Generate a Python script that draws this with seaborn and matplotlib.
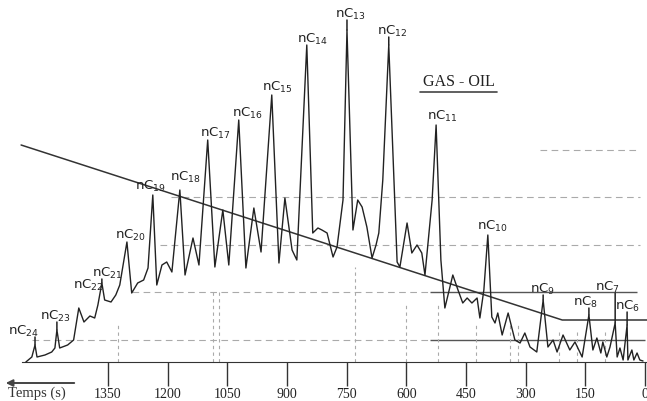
import numpy as np
import pandas as pd
import matplotlib.pyplot as plt
import seaborn as sns
from matplotlib.lines import Line2D

# chromatogram trace: retention time (s) and detector signal (arb.)
trace_time = [1556, 1541, 1533, 1528, 1508, 1491, 1483, 1478, 1471, 1451, 1436, 1423,
              1410, 1395, 1383, 1375, 1365, 1358, 1342, 1330, 1320, 1302, 1290, 1275,
              1260, 1249, 1237, 1227, 1214, 1202, 1189, 1169, 1156, 1136, 1121, 1099,
              1081, 1061, 1046, 1021, 1003, 983, 965, 938, 920, 905, 887, 875, 850,
              835, 822, 812, 799, 784, 774, 759, 749, 734, 722, 711, 699, 686, 676,
              669, 659, 644, 623, 616, 598, 586, 573, 561, 553, 535, 525, 513, 503,
              483, 470, 458, 447, 435, 422, 415, 405, 395, 385, 377, 370, 359, 344,
              327, 314, 302, 289, 272, 256, 244, 231, 221, 206, 189, 176, 158, 141,
              131, 121, 111, 106, 96, 88, 75, 70, 63, 55, 45, 43, 33, 28, 20, 13, 5]
trace_signal = [0, 5, 17, 5, 7, 10, 14, 32, 14, 17, 22, 54,
                40, 46, 44, 57, 79, 62, 60, 67, 77, 120, 69, 79,
                82, 94, 167, 77, 97, 100, 90, 172, 87, 124, 97, 222,
                95, 152, 97, 242, 94, 154, 110, 267, 99, 164, 112, 102, 317,
                129, 134, 132, 129, 105, 115, 162, 332, 132, 162, 155, 135, 104, 117,
                129, 182, 317, 100, 95, 139, 109, 117, 109, 87, 162, 237, 102, 54,
                87, 72, 59, 64, 59, 64, 44, 72, 127, 45, 39, 49, 27, 49,
                22, 19, 29, 15, 10, 62, 15, 22, 10, 27, 12, 20, 5, 47,
                12, 24, 9, 20, 5, 15, 39, 5, 14, 2, 37, 2, 12, 2, 9, 2, 1]

# n-alkane peaks
peak_names = ['nC$_{24}$', 'nC$_{23}$', 'nC$_{22}$', 'nC$_{21}$', 'nC$_{20}$', 'nC$_{19}$',
              'nC$_{18}$', 'nC$_{17}$', 'nC$_{16}$', 'nC$_{15}$', 'nC$_{14}$', 'nC$_{13}$',
              'nC$_{12}$', 'nC$_{11}$', 'nC$_{10}$', 'nC$_{9}$', 'nC$_{8}$', 'nC$_{7}$', 'nC$_{6}$']
peak_time = [1533, 1478, 1423, 1365, 1302, 1237, 1169, 1099, 1021, 938, 850, 749,
             644, 525, 395, 256, 141, 75, 45]
peak_signal = [17, 32, 54, 79, 120, 167, 172, 222, 242, 267, 317, 332,
               317, 237, 127, 62, 47, 39, 37]

# oven temperature programme line
temp_time = [1568, 208, -5]
temp_level = [217, 42, 42]

# chart paper guide lines
guide_levels = [212, 165, 117, 70, 70, 22, 22]
guide_start = [264, 1190, 1220, 1290, 540, 1540, 540]
guide_end = [13, 13, 13, 540, 20, 540, 0]
guide_solid = [False, False, False, False, True, False, True]
vline_times = [1325, 1085, 1070, 729, 600, 520, 425, 340, 320, 215, 170, 100]
vline_tops = [40, 70, 70, 95, 60, 60, 40, 40, 40, 30, 30, 30]

tick_values = [1350, 1200, 1050, 900, 750, 600, 450, 300, 150, 0]

df = pd.DataFrame({'time': trace_time, 'signal': trace_signal})

sns.set_style('white')
plt.rcParams['font.family'] = ['DejaVu Sans']

W, H = 647, 401
fig = plt.figure(figsize=(W / 100, H / 100), dpi=100)
ax = fig.add_axes([0, 0, 1, 1])

# guides first, faint
for lev, a, b, solid in zip(guide_levels, guide_start, guide_end, guide_solid):
    ax.hlines(lev, a, b, color='#555555' if solid else '#aaaaaa',
              lw=1.0 if solid else 0.8, ls='-' if solid else (0, (6, 4)), zorder=1)
for t, top in zip(vline_times, vline_tops):
    ax.vlines(t, 0, top, color='#aaaaaa', lw=0.8, ls=(0, (3, 3)), zorder=1)

ax.plot(temp_time, temp_level, color='#333333', lw=1.1, zorder=2)

sns.lineplot(data=df, x='time', y='signal', color='#222222', lw=1.0, ax=ax, zorder=3)

# peak labels (offsets in pixels from the apex, left edge of text)
label_off = {
    'nC$_{24}$': (-27, 14, True), 'nC$_{23}$': (-17, 14, True), 'nC$_{22}$': (-6, 23, False),
    'nC$_{21}$': (-10, 10, True), 'nC$_{20}$': (-12, 7, False), 'nC$_{19}$': (-18, 9, False),
    'nC$_{18}$': (-10, 13, False), 'nC$_{17}$': (-8, 7, False), 'nC$_{16}$': (-7, 7, False),
    'nC$_{15}$': (-10, 8, False), 'nC$_{14}$': (-10, 6, False), 'nC$_{13}$': (-12, 16, True),
    'nC$_{12}$': (-12, 14, True), 'nC$_{11}$': (-9, 9, False), 'nC$_{10}$': (-11, 9, False),
    'nC$_{9}$': (-13, 11, True), 'nC$_{8}$': (-16, 13, True), 'nC$_{7}$': (-20, 36, True),
    'nC$_{6}$': (-12, 19, True),
}
for name, t, s in zip(peak_names, peak_time, peak_signal):
    dx, dy, stem = label_off[name]
    ax.annotate(name, xy=(t, s), xytext=(dx, dy), textcoords='offset pixels',
                ha='left', va='center', fontsize=9.5, color='#222222')
    if stem:
        ax.annotate('', xy=(t, s), xytext=(0, dy - 6), textcoords='offset pixels',
                    arrowprops=dict(arrowstyle='-', color='#222222', lw=1.1,
                                    shrinkA=0, shrinkB=0))

ax.text(423 / W, 1 - 82 / H, 'GAS - OIL', transform=ax.transAxes, fontsize=11.5,
        family='Liberation Serif', color='#222222', va='center', ha='left')
fig.add_artist(Line2D([420 / W, 497 / W], [1 - 92 / H, 1 - 92 / H],
                      color='#444444', lw=1.2))

# time axis, reversed
ax.set_xlim(1621, -5)
ax.set_ylim(-39, 362)
for side in ['left', 'top', 'right']:
    ax.spines[side].set_visible(False)
ax.spines['bottom'].set_position(('data', 0))
ax.spines['bottom'].set_bounds(1565, -3)
ax.spines['bottom'].set_color('#333333')
ax.set_yticks([])
ax.set_xticks(tick_values)
ax.set_xticklabels([str(v) for v in tick_values], family='Liberation Serif', fontsize=10)
ax.tick_params(axis='x', direction='out', length=17, width=1.0, color='#333333',
               pad=1.5, labelcolor='#222222', bottom=True)
ax.set_xlabel('')
ax.set_ylabel('')

ax.text(8 / W, 1 - 393 / H, 'Temps (s)', transform=ax.transAxes, fontsize=10.5,
        family='Liberation Serif', color='#333333', va='center', ha='left')
ax.annotate('', xy=(3 / W, 1 - 383 / H), xytext=(77 / W, 1 - 383 / H),
            xycoords='axes fraction', textcoords='axes fraction',
            arrowprops=dict(arrowstyle='-|>', color='#444444', lw=1.4, mutation_scale=10))

fig.savefig('out.png', dpi=100)
